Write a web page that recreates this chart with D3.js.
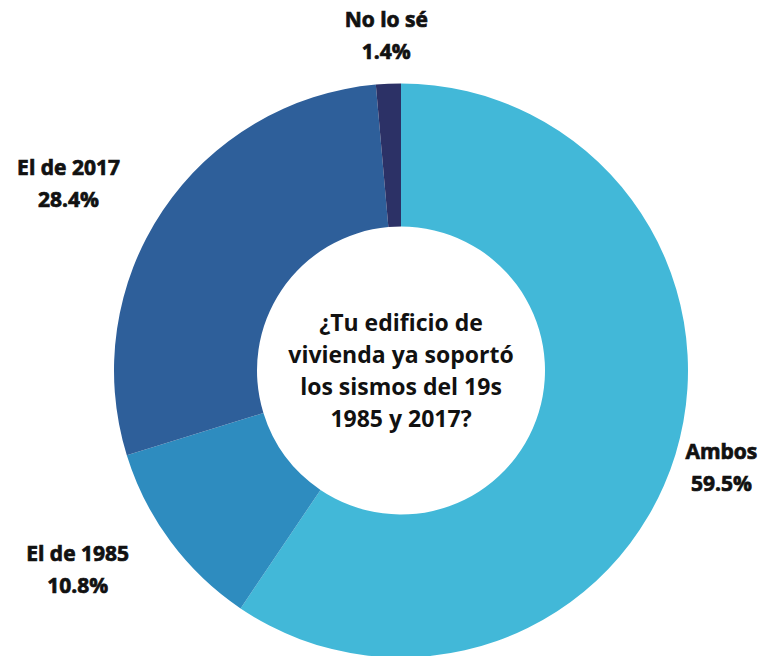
<!DOCTYPE html>
<html>
<head>
<meta charset="utf-8">
<script src="https://cdn.jsdelivr.net/npm/d3@7"></script>
<style>
  html, body { margin: 0; padding: 0; background: #fff; }
  svg text { font-family: "Open Sans", sans-serif; fill: #111; }
</style>
</head>
<body>
<div id="chart"></div>
<script>
// data (clockwise from 12 o'clock)
const categories = ["Ambos", "El de 1985", "El de 2017", "No lo sé"];
const values = [59.5, 10.8, 28.4, 1.4];
const colors = ["#42b8d8", "#2e8cbf", "#2e5f9a", "#2c3166"];
const centerLines = ["¿Tu edificio de", "vivienda ya soportó", "los sismos del 19s", "1985 y 2017?"];

const width = 767, height = 656;
const cx = 401, cy = 370.5;
const outerR = 287, innerR = 144, labelR = 335;

const svg = d3.select("#chart")
  .append("svg")
  .attr("width", width)
  .attr("height", height);

const g = svg.append("g")
  .attr("transform", "translate(" + cx + "," + cy + ")");

const pie = d3.pie().sort(null).value(function(d) { return d; });
const arcs = pie(values);

const arc = d3.arc().innerRadius(innerR).outerRadius(outerR);
const labelArc = d3.arc().innerRadius(labelR).outerRadius(labelR);

g.selectAll("path")
  .data(arcs)
  .enter()
  .append("path")
  .attr("d", arc)
  .attr("fill", function(d, i) { return colors[i]; });

// slice labels, two centred lines each
const lab = g.selectAll("text.lab")
  .data(arcs)
  .enter()
  .append("text")
  .attr("class", "lab")
  .attr("font-size", 21)
  .attr("font-weight", 700)
  .attr("text-anchor", "middle")
  .style("stroke", "#111")
  .style("stroke-width", 0.7);

lab.append("tspan")
  .attr("x", 0)
  .attr("y", -9)
  .text(function(d, i) { return categories[i]; });
lab.append("tspan")
  .attr("x", 0)
  .attr("y", 23)
  .text(function(d, i) { return values[i].toFixed(1) + "%"; });

// labels on the left side hang off the point, like an end anchor
lab.attr("transform", function(d) {
  const c = labelArc.centroid(d);
  const a = (d.startAngle + d.endAngle) / 2;
  let shift = 0;
  if (Math.sin(a) < -0.5) {
    shift = -this.getBBox().width / 2 - 3;
  }
  return "translate(" + (c[0] + shift) + "," + c[1] + ")";
});

// centre question
g.append("text")
  .attr("text-anchor", "middle")
  .attr("font-size", 23)
  .attr("font-weight", 700)
  .selectAll("tspan")
  .data(centerLines)
  .enter()
  .append("tspan")
  .attr("x", 0)
  .attr("y", function(d, i) { return -40 + i * 32; })
  .text(function(d) { return d; });
</script>
</body>
</html>
